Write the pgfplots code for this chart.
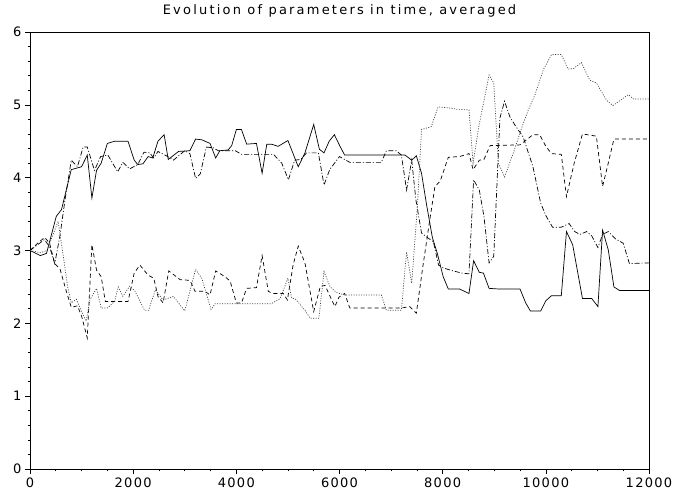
\documentclass[border=0pt]{standalone}
\usepackage{pgfplots}
\pgfplotsset{compat=1.18}
\usepackage{fontspec}
\setmainfont[LetterSpace=10]{DejaVu Sans}

\begin{document}
\begin{tikzpicture}
\begin{axis}[
    scale only axis,
    width=619pt, height=437pt,
    xmin=0, xmax=12000, ymin=0, ymax=6,
    xtick={0,2000,...,12000},
    ytick={0,1,...,6},
    minor x tick num=3,
    minor y tick num=4,
    tick align=outside,
    xtick pos=left, ytick pos=left,
    major tick length=5pt, minor tick length=2.5pt,
    scaled x ticks=false,
    /pgf/number format/1000 sep={},
    /pgf/number format/assume math mode=true,
    tick label style={font=\fontsize{13}{15}\selectfont},
    axis line style={line width=0.8pt},
    every tick/.style={line width=0.6pt, black},
    title={Evolution of parameters in time, averaged},
    title style={font=\fontsize{13}{15}\selectfont\addfontfeature{LetterSpace=17}, at={(0.5,1)}, anchor=base, yshift=11pt},
    every axis plot/.append style={line width=0.7pt, black},
]

% solid
\addplot[solid] coordinates {
(0,3.00) (200,2.93) (320,2.96) (510,3.47) (610,3.56) (800,4.11) (1000,4.15)
(1110,4.31) (1200,3.72) (1290,4.10) (1380,4.20) (1500,4.47) (1640,4.50) (1900,4.50)
(2020,4.24) (2090,4.18) (2190,4.19) (2290,4.29) (2380,4.27) (2480,4.50) (2600,4.59)
(2680,4.25) (2880,4.36) (3100,4.37) (3210,4.53) (3330,4.52) (3490,4.47) (3600,4.27)
(3680,4.37) (3840,4.38) (3910,4.44) (4000,4.66) (4100,4.66) (4200,4.46) (4390,4.47)
(4500,4.06) (4590,4.46) (4680,4.46) (4810,4.43) (5000,4.51) (5200,4.15) (5330,4.34)
(5500,4.73) (5610,4.39) (5700,4.34) (5800,4.50) (5900,4.59) (6010,4.43) (6100,4.31)
(6200,4.31) (7270,4.31) (7400,4.24) (7490,4.30) (7590,4.06) (7690,3.62) (7800,3.18)
(7900,2.95) (8010,2.64) (8110,2.47) (8330,2.47) (8510,2.41) (8600,2.86) (8710,2.70)
(8790,2.69) (8900,2.48) (9110,2.47) (9500,2.47) (9610,2.28) (9700,2.17) (9900,2.17)
(10000,2.31) (10110,2.38) (10300,2.38) (10400,3.26) (10520,3.08) (10710,2.34)
(10890,2.34) (11010,2.23) (11100,3.28) (11210,3.01) (11320,2.50) (11430,2.45) (12000,2.45)
};

% dash-dot
\addplot[dash pattern=on 5pt off 2pt on 1pt off 2pt] coordinates {
(0,3.00) (280,3.15) (380,3.05) (480,2.82) (580,3.20) (680,3.70) (800,4.24) (920,4.15)
(1030,4.42) (1110,4.42) (1250,4.10) (1370,4.29) (1510,4.31) (1700,4.08) (1800,4.21)
(1930,4.12) (2090,4.18) (2210,4.35) (2320,4.34) (2400,4.27) (2480,4.36) (2670,4.29)
(2780,4.24) (3000,4.37) (3100,4.33) (3210,3.99) (3300,4.05) (3420,4.42) (3550,4.41)
(3650,4.37) (3980,4.37) (4100,4.32) (4720,4.32) (4880,4.20) (5010,3.97) (5130,4.24)
(5250,4.25) (5360,4.34) (5590,4.34) (5700,3.90) (5810,4.11) (6000,4.29) (6200,4.21)
(6810,4.21) (6910,4.37) (7100,4.37) (7200,4.31) (7300,3.83) (7400,4.24) (7480,3.70)
(7590,3.24) (7700,3.18) (7820,3.12) (7920,2.80) (8010,2.76) (8200,2.72) (8370,2.69)
(8510,2.68) (8600,3.97) (8710,3.83) (8800,3.47) (8900,2.83) (8990,2.92) (9110,4.82)
(9200,5.05) (9300,4.84) (9420,4.70) (9560,4.56) (9750,4.15) (9900,3.65) (10000,3.48)
(10130,3.32) (10300,3.32) (10450,3.37) (10560,3.26) (10660,3.22) (10790,3.26)
(10890,3.20) (11010,3.04) (11100,3.22) (11210,3.26) (11350,3.16) (11500,3.10)
(11620,2.82) (12000,2.83)
};

% dashed
\addplot[dash pattern=on 4pt off 3pt] coordinates {
(0,3.00) (150,3.10) (284,3.18) (380,3.10) (480,2.82) (580,2.75) (700,2.45) (800,2.22)
(920,2.24) (1000,2.10) (1110,1.80) (1200,3.08) (1290,2.73) (1380,2.64) (1460,2.30)
(1640,2.30) (1900,2.30) (2020,2.69) (2130,2.80) (2290,2.66) (2400,2.62) (2480,2.37)
(2580,2.28) (2690,2.72) (2910,2.60) (3100,2.59) (3200,2.44) (3390,2.44) (3490,2.39)
(3600,2.72) (3780,2.64) (3880,2.58) (4000,2.28) (4100,2.28) (4200,2.48) (4390,2.49)
(4500,2.93) (4620,2.44) (4700,2.41) (4910,2.41) (4990,2.32) (5100,2.80) (5200,3.06)
(5330,2.83) (5500,2.16) (5630,2.51) (5720,2.52) (5910,2.23) (5990,2.36) (6100,2.41)
(6200,2.21) (7200,2.21) (7360,2.23) (7490,2.14) (7620,2.80) (7750,3.42) (7850,3.88)
(7950,3.95) (8110,4.28) (8330,4.29) (8510,4.33) (8590,4.11) (8710,4.24) (8800,4.25)
(8920,4.44) (9500,4.45) (9750,4.59) (9880,4.59) (10000,4.43) (10110,4.33) (10300,4.32)
(10400,3.74) (10550,4.20) (10710,4.60) (10980,4.57) (11100,3.88) (11210,4.20)
(11320,4.53) (12000,4.53)
};

% dotted
\addplot[dash pattern=on 1pt off 1.5pt, gray!50!black] coordinates {
(0,3.00) (200,2.97) (330,3.00) (545,3.40) (650,2.90) (730,2.50) (800,2.28) (900,2.33)
(1000,2.16) (1090,2.03) (1160,2.32) (1290,2.48) (1380,2.21) (1500,2.21) (1640,2.30)
(1710,2.50) (1800,2.37) (1930,2.51) (2030,2.45) (2220,2.18) (2300,2.18) (2430,2.46)
(2580,2.32) (2780,2.37) (3000,2.17) (3210,2.74) (3330,2.62) (3510,2.19) (3590,2.27)
(4680,2.27) (4850,2.34) (5000,2.62) (5070,2.35) (5150,2.33) (5330,2.18) (5430,2.07)
(5600,2.07) (5700,2.71) (5820,2.50) (5950,2.42) (6100,2.39) (6810,2.39) (6910,2.18)
(7200,2.18) (7300,2.98) (7400,2.55) (7510,3.60) (7590,4.66) (7780,4.70) (7910,4.97)
(8100,4.96) (8270,4.94) (8510,4.93) (8590,4.20) (8700,4.70) (8900,5.41) (8990,5.30)
(9080,4.20) (9200,4.01) (9370,4.34) (9530,4.68) (9660,4.93) (9790,5.14) (9950,5.48)
(10110,5.69) (10300,5.69) (10430,5.49) (10540,5.50) (10690,5.58) (10850,5.34)
(10980,5.30) (11180,5.06) (11300,4.99) (11600,5.14) (11700,5.08) (12000,5.08)
};

\end{axis}
\pgfresetboundingbox
\path[use as bounding box] (-30pt,-25pt) rectangle (645pt,469pt);
\end{tikzpicture}
\end{document}
